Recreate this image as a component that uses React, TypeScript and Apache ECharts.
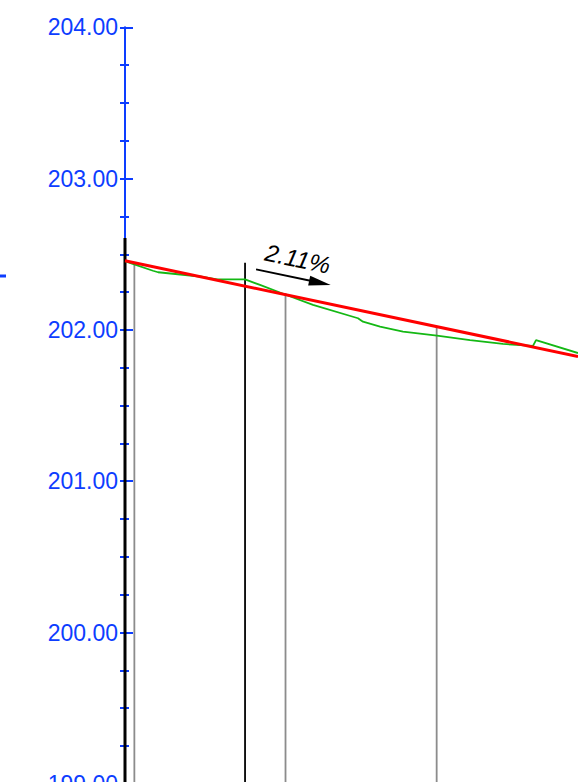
import React, { useEffect, useRef } from "react";
import * as echarts from "echarts";

// Elevation axis (m)
const elevationMin = 199;
const elevationMax = 204;
const elevationStep = 1;

// Station axis (m)
const stationMin = 0;
const stationMax = 30;

// Design grade line (red)
const designStations = [0, 30];
const designElevations = [202.457, 201.824];
const gradeLabel = "2.11%";

// Existing ground (green)
const groundStations = [
  0.03, 0.66, 1.85, 2.19, 4.97, 6.09, 7.95, 8.94, 10.6, 12.45, 15.43, 15.76,
  16.89, 18.41, 20.66, 22.85, 25.03, 27.02, 27.22, 30.0,
];
const groundElevations = [
  202.452, 202.432, 202.391, 202.381, 202.353, 202.334, 202.334, 202.297,
  202.234, 202.165, 202.077, 202.054, 202.021, 201.988, 201.962, 201.933,
  201.907, 201.894, 201.933, 201.847,
];

// Vertical station lines
const boundaryStation = 0;
const boundaryTop = 202.607;
const blackStations = [7.95];
const blackTops = [202.444];
const grayStations = [0.62, 10.63, 20.64];
const grayTops = [202.442, 202.244, 202.026];

// Grade arrow (from, to) in [station, elevation]
const arrowFrom = [8.68, 202.4];
const arrowTo = [12.91, 202.311];

const BLUE = "#0d3dff";
const FONT = "Liberation Sans";

export default function App() {
  const ref = useRef<HTMLDivElement>(null);

  useEffect(() => {
    document.body.style.margin = "0";
    const chart = echarts.init(ref.current!, undefined, { renderer: "svg" });

    const vertical = (s: number, top: number, color: string, width: number) => ({
      type: "line",
      data: [
        [s, top],
        [s, elevationMin],
      ],
      symbol: "none",
      silent: true,
      lineStyle: { color, width },
      z: 3,
    });

    const series: any[] = [];
    grayStations.forEach((s, i) => series.push(vertical(s, grayTops[i], "#8c8c8c", 1.8)));
    blackStations.forEach((s, i) => series.push(vertical(s, blackTops[i], "#000000", 1.8)));
    series.push(vertical(boundaryStation, boundaryTop, "#000000", 3));
    series.push({
      type: "line",
      data: groundStations.map((s, i) => [s, groundElevations[i]]),
      symbol: "none",
      silent: true,
      lineStyle: { color: "#14b814", width: 1.8 },
      z: 4,
    });
    series.push({
      type: "line",
      data: designStations.map((s, i) => [s, designElevations[i]]),
      symbol: "none",
      silent: true,
      lineStyle: { color: "#ff0000", width: 3 },
      z: 5,
      markLine: {
        silent: true,
        symbol: ["none", "triangle"],
        symbolSize: [10, 22],
        animation: false,
        itemStyle: { color: "#000" },
        lineStyle: { color: "#000", width: 2, type: "solid" },
        label: {
          show: true,
          formatter: gradeLabel,
          position: "insideMiddleTop",
          distance: 7,
          fontStyle: "italic",
          fontSize: 24,
          fontFamily: FONT,
          color: "#000",
          padding: [0, 0, 0, 12],
        },
        data: [[{ coord: arrowFrom }, { coord: arrowTo }]],
      },
    });

    chart.setOption({
      animation: false,
      grid: { left: 125, right: 0, top: 27.3, height: 756.5, outerBoundsMode: "none" },
      xAxis: { type: "value", min: stationMin, max: stationMax, show: false },
      yAxis: [
        {
          type: "value",
          min: elevationMin,
          max: elevationMax,
          interval: elevationStep,
          position: "left",
          axisLine: { show: true, lineStyle: { color: BLUE, width: 2 } },
          axisTick: { show: true, length: 5, lineStyle: { color: BLUE, width: 2 } },
          minorTick: { show: true, splitNumber: 4, length: 5, lineStyle: { color: BLUE, width: 2 } },
          splitLine: { show: false },
          axisLabel: {
            show: true,
            margin: 7,
            color: BLUE,
            fontSize: 23,
            fontFamily: FONT,
            formatter: (v: number) => v.toFixed(2),
          },
        },
        {
          type: "value",
          min: elevationMin,
          max: elevationMax,
          interval: elevationStep,
          position: "left",
          offset: 0,
          axisLine: { show: false },
          axisTick: { show: true, inside: true, length: 8, lineStyle: { color: BLUE, width: 2 } },
          minorTick: { show: true, splitNumber: 4, length: 4, lineStyle: { color: BLUE, width: 2 } },
          splitLine: { show: false },
          axisLabel: { show: false },
        },
      ],
      graphic: [
        {
          type: "rect",
          shape: { x: 0, y: 274.5, width: 6, height: 3 },
          style: { fill: BLUE },
          silent: true,
        },
      ],
      series,
    });

    return () => chart.dispose();
  }, []);

  return (
    <div
      ref={ref}
      style={{ position: "fixed", left: 0, top: 0, width: 578, height: 782, background: "#fff" }}
    />
  );
}
